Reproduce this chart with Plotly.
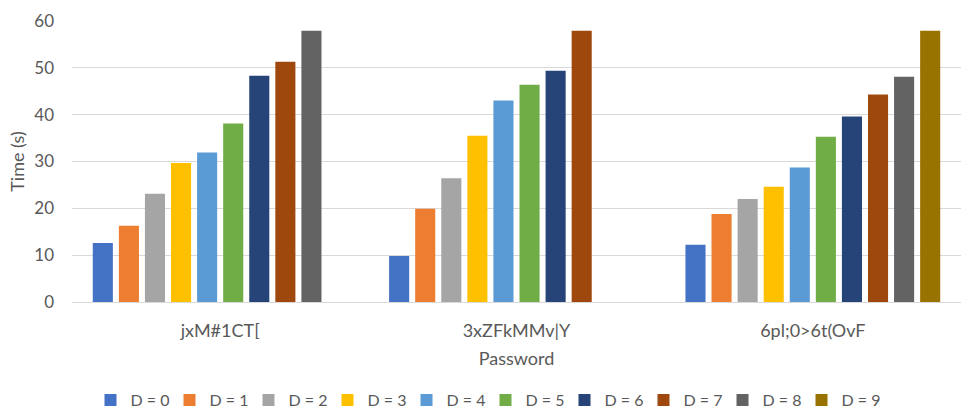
import plotly.graph_objects as go

# passwords on the x axis
passwords = ["jxM#1CT[", "3xZFkMMv|Y", "6pl;0>6t(OvF"]

# time in seconds for each D, one value per password (None = no bar)
d0 = [12.6, 9.8, 12.2]
d1 = [16.3, 19.9, 18.8]
d2 = [23.1, 26.4, 22.0]
d3 = [29.7, 35.5, 24.6]
d4 = [31.9, 43.0, 28.7]
d5 = [38.1, 46.4, 35.3]
d6 = [48.3, 49.4, 39.6]
d7 = [51.3, 57.9, 44.3]
d8 = [57.9, None, 48.1]
d9 = [None, None, 57.9]

series = [d0, d1, d2, d3, d4, d5, d6, d7, d8, d9]
names = ["D = %d" % i for i in range(10)]
colors = ["#4472C4", "#ED7D31", "#A5A5A5", "#FFC000", "#5B9BD5",
          "#70AD47", "#264478", "#9E480E", "#636363", "#997300"]

font = "Lato, 'Open Sans', sans-serif"
txt = "#595959"

fig = go.Figure()
for vals, name, col in zip(series, names, colors):
    fig.add_trace(go.Bar(x=passwords, y=vals, name=name, marker_color=col,
                         marker_line_width=0))

fig.update_layout(
    width=971, height=419,
    margin=dict(l=72, r=10, t=21, b=117),
    paper_bgcolor="white", plot_bgcolor="white",
    barmode="group", bargap=0.12, bargroupgap=0.23,
    font=dict(family=font, size=17, color=txt),
    legend=dict(orientation="h", xref="container", yref="container",
                x=0.5, xanchor="center", y=0.045, yanchor="middle",
                font=dict(size=16, color=txt),
                itemwidth=30, entrywidth=34, entrywidthmode="pixels",
                traceorder="normal"),
)
fig.update_xaxes(
    showgrid=False, showline=False, ticks="", automargin=False,
    tickfont=dict(size=18, color=txt), ticklabelstandoff=16,
    title=dict(text="Password", font=dict(size=18, color=txt), standoff=12),
)
fig.update_yaxes(
    range=[0, 60], dtick=10, showgrid=True, gridcolor="#D9D9D9",
    zeroline=True, zerolinecolor="#D9D9D9", zerolinewidth=1, automargin=False,
    tickfont=dict(size=17, color=txt), ticklabelstandoff=17,
    title=dict(text="Time (s)", font=dict(size=18, color=txt), standoff=4),
)

# drop the default page margin so the figure sits at the window corner
fig.write_html("out.html", config={"displayModeBar": False},
               post_script="document.body.style.margin='0';")
